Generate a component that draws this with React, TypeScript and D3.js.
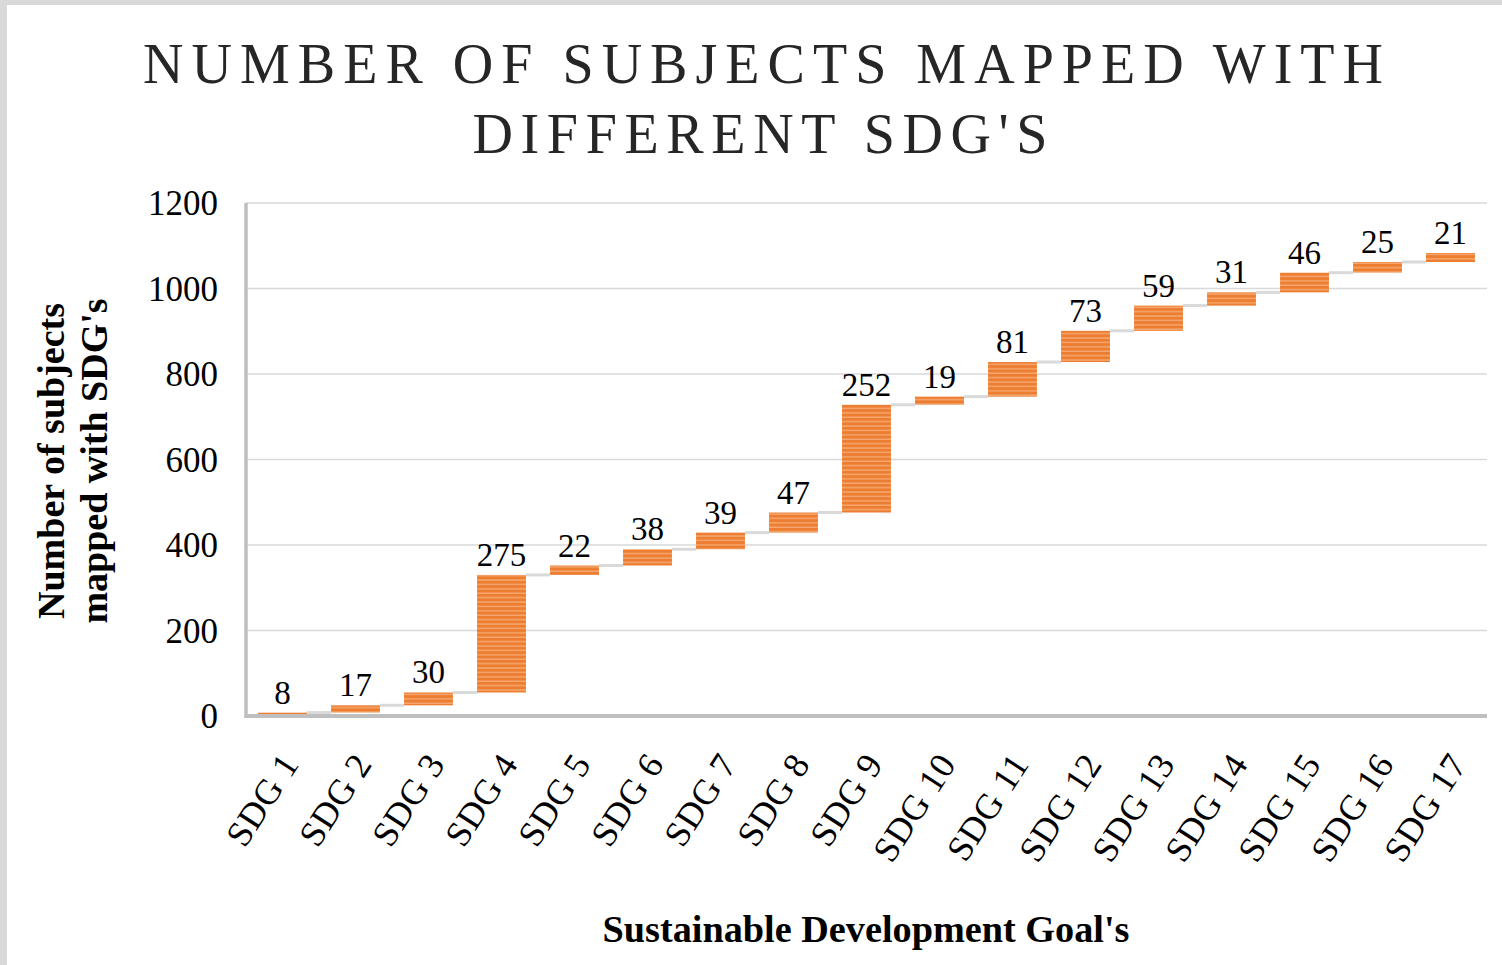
import React from "react";
import * as d3 from "d3";

const categories = ["SDG 1","SDG 2","SDG 3","SDG 4","SDG 5","SDG 6","SDG 7","SDG 8","SDG 9","SDG 10","SDG 11","SDG 12","SDG 13","SDG 14","SDG 15","SDG 16","SDG 17"];
const values = [8,17,30,275,22,38,39,47,252,19,81,73,59,31,46,25,21];
const yTicks = [0,200,400,600,800,1000,1200];
const titleLines = ["NUMBER OF SUBJECTS MAPPED WITH", "DIFFERENT SDG'S"];
const yTitleLines = ["Number of subjects", "mapped with SDG's"];
const xTitle = "Sustainable Development Goal's";

const W = 1502, H = 965;
const left = 246, right = 1487, top = 203, bottom = 716;
const serif = "Liberation Serif";
const sty = { fontFamily: serif };

export default function App() {
  const x = d3.scaleBand<string>().domain(categories).range([left, right]).paddingInner(0.33).paddingOuter(0.165);
  const y = d3.scaleLinear().domain([0, 1200]).range([bottom, top]);
  let acc = 0;
  const bars = values.map((v, i) => {
    const start = acc; acc += v;
    return { cat: categories[i], v, start, end: acc };
  });
  const bw = x.bandwidth();
  return (
    <svg width={W} height={H} style={{ position: "absolute", left: 0, top: 0, background: "#fff" }}>
      <defs>
        <pattern id="stripes" patternUnits="userSpaceOnUse" width={10} height={4.4}>
          <rect x={0} y={0} width={10} height={4.4} fill="#F5A66E" />
          <rect x={0} y={0} width={10} height={2.9} fill="#ED7D31" />
        </pattern>
      </defs>
      <rect x={0} y={0} width={W} height={H} fill="#fff" />
      <rect x={0} y={0} width={7} height={H} fill="#d9d9d9" />
      <rect x={0} y={0} width={W} height={5} fill="#d9d9d9" />
      {/* title */}
      <text x={763} y={83} textAnchor="middle" style={sty} fontSize={56} fill="#262626"
        textLength={1240} lengthAdjust="spacing">{titleLines[0]}</text>
      <text x={760} y={153} textAnchor="middle" style={sty} fontSize={56} fill="#262626"
        textLength={575} lengthAdjust="spacing">{titleLines[1]}</text>
      {/* gridlines */}
      {yTicks.filter(t => t > 0).map(t => (
        <line key={t} x1={left} x2={right} y1={y(t)} y2={y(t)} stroke="#d9d9d9" strokeWidth={1.5} />
      ))}
      {/* y tick labels */}
      {yTicks.map(t => (
        <text key={t} x={218} y={y(t)} dy="0.35em" textAnchor="end" style={sty} fontSize={35} fill="#000">{t}</text>
      ))}
      {/* connectors */}
      {bars.slice(0, -1).map((b, i) => (
        <line key={"c" + i} x1={(x(b.cat) as number) + bw} x2={x(bars[i + 1].cat) as number}
          y1={y(b.end)} y2={y(b.end)} stroke="#d9d9d9" strokeWidth={3} />
      ))}
      {/* bars */}
      {bars.map(b => (
        <rect key={b.cat} x={x(b.cat)} y={y(b.end)} width={bw} height={Math.max(1, y(b.start) - y(b.end))}
          fill="url(#stripes)" />
      ))}
      {/* data labels */}
      {bars.map(b => (
        <text key={"l" + b.cat} x={(x(b.cat) as number) + bw / 2} y={y(b.end) - 9} textAnchor="middle"
          style={sty} fontSize={33} fill="#000">{b.v}</text>
      ))}
      {/* axes */}
      <line x1={left} x2={left} y1={top} y2={bottom + 2} stroke="#bfbfbf" strokeWidth={3.5} />
      <line x1={left - 1.5} x2={right} y1={bottom} y2={bottom} stroke="#bfbfbf" strokeWidth={4} />
      {/* x tick labels */}
      {categories.map(c => {
        const cx = (x(c) as number) + bw / 2 + 7;
        const cy = 757;
        return (
          <text key={"t" + c} transform={`translate(${cx},${cy}) rotate(-57)`} textAnchor="end"
            dy="0.35em" style={sty} fontSize={36} letterSpacing={0.5} fill="#000">{c}</text>
        );
      })}
      {/* axis titles */}
      <text x={866} y={942} textAnchor="middle" style={sty} fontWeight="bold" fontSize={37} fill="#000"
        textLength={527} lengthAdjust="spacingAndGlyphs">{xTitle}</text>
      {yTitleLines.map((l, i) => (
        <text key={l} transform={`translate(${64 + i * 43},${461}) rotate(-90)`} textAnchor="middle"
          style={sty} fontWeight="bold" fontSize={38} fill="#000">{l}</text>
      ))}
    </svg>
  );
}
